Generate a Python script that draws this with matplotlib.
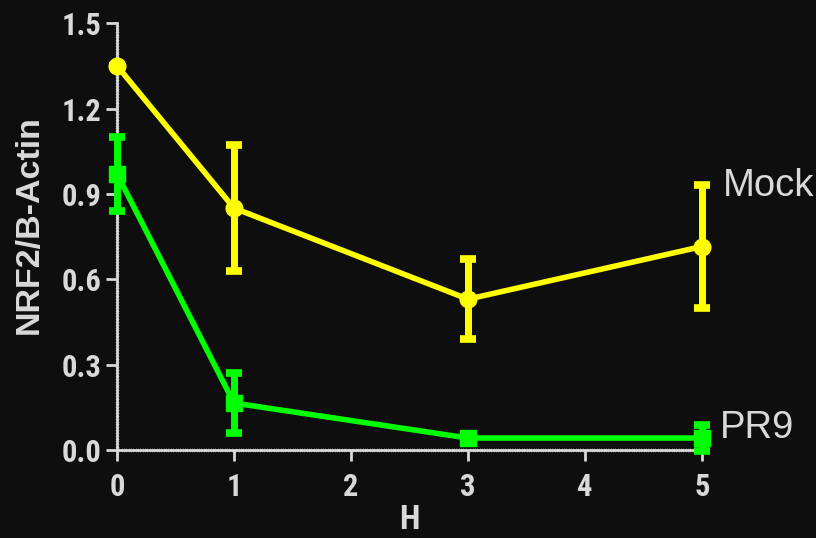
import matplotlib
matplotlib.use("Agg")
import matplotlib.pyplot as plt
from matplotlib.ticker import MultipleLocator

hours = [0, 1, 3, 5]
mock_mean = [1.35, 0.85, 0.53, 0.715]
mock_err = [0.0, 0.22, 0.14, 0.215]
pr9_mean = [0.97, 0.165, 0.042, 0.042]
pr9_err = [0.13, 0.105, 0.01, 0.045]

x_ticks = [0, 1, 2, 3, 4, 5]
y_ticks = [0.0, 0.3, 0.6, 0.9, 1.2, 1.5]
y_tick_labels = ["0.0", "0.3", "0.6", "0.9", "1.2", "1.5"]

BG = "#0e0e0e"
FG = "#d9d9d9"
YELLOW = "#ffff00"
GREEN = "#00ff00"
COND = "Roboto Condensed"

fig = plt.figure(figsize=(8.16, 5.38), dpi=100, facecolor=BG)
ax = fig.add_axes([0.1434, 0.1636, 0.7169, 0.7934], facecolor=BG)

style = dict(lw=4, ms=12, capsize=6, capthick=5.5, elinewidth=5, clip_on=False, zorder=3)
ax.errorbar(hours, mock_mean, yerr=mock_err, color=YELLOW, marker="o", **style)
ax.errorbar(hours, pr9_mean, yerr=pr9_err, color=GREEN, marker="s", **style)

ax.set_xlim(0, 5)
ax.set_ylim(0, 1.5)
ax.set_xticks(x_ticks)
ax.set_yticks(y_ticks)
ax.set_yticklabels(y_tick_labels)
ax.xaxis.set_minor_locator(MultipleLocator(0.02))
ax.yaxis.set_minor_locator(MultipleLocator(0.01))

for side in ("top", "right"):
    ax.spines[side].set_visible(False)
for side in ("left", "bottom"):
    ax.spines[side].set_color(FG)
    ax.spines[side].set_linewidth(2)

ax.tick_params(which="major", direction="out", length=8, width=2, color=FG,
               labelcolor=FG, labelsize=22)
ax.tick_params(axis="x", which="major", pad=8)
ax.tick_params(axis="y", which="major", pad=3)
ax.tick_params(which="minor", direction="inout", length=3.5, width=0.5, color="#8a8a8a")
for lbl in ax.get_xticklabels() + ax.get_yticklabels():
    lbl.set_fontfamily(COND)
    lbl.set_fontweight("bold")

ax.set_ylabel("NRF2/B-Actin", fontsize=24.5, fontweight="bold", color=FG,
              family="Liberation Sans")
ax.yaxis.set_label_coords(-0.123, 0.528)
ax.set_xlabel("H", fontsize=24, fontweight="bold", color=FG, family=COND, labelpad=1)

ax.text(5.175, 0.892, "Mock", fontsize=27.5, color=FG, family="Liberation Sans",
        va="baseline", ha="left", clip_on=False)
ax.text(5.15, 0.042, "PR9", fontsize=27.5, color=FG, family="Liberation Sans",
        va="baseline", ha="left", clip_on=False)

fig.savefig("out.png", dpi=100, facecolor=BG)
